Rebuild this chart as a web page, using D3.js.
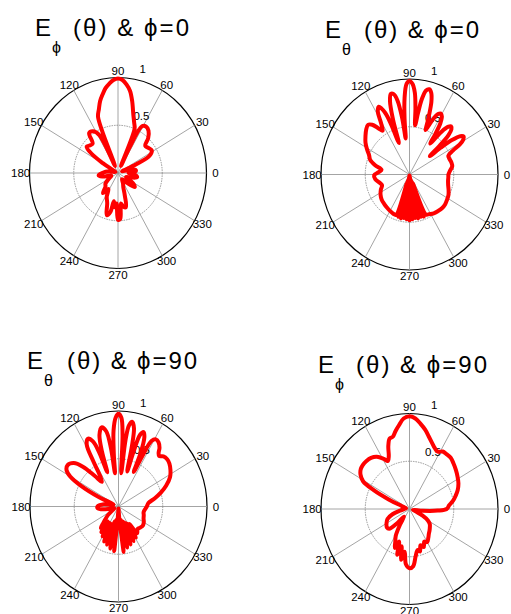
<!DOCTYPE html>
<html><head><meta charset="utf-8">
<script src="https://cdn.jsdelivr.net/npm/d3@7/dist/d3.min.js"></script>
<style>
body{margin:0;background:#fff}
svg{display:block}
text{font-family:"Liberation Sans",Arial,"DejaVu Sans",sans-serif;fill:#000}
</style>
</head><body>
<svg id="chart" width="511" height="614"></svg>
<script>
// ---------- data ----------
const angleTicks = [0,30,60,90,120,150,180,210,240,270,300,330];
const spokeAngles = [0,30,60,90,120,150];
const ringTicks = [0.5, 1];
const ringLabels = ["0.5", "1"];

const titleMain = ["E","E","E","E"];
const titleSub  = ["\u03D5","\u03B8","\u03B8","\u03D5"];
const titleRest = ["(\u03B8) & \u03D5=0","(\u03B8) & \u03D5=0","(\u03B8) & \u03D5=90","(\u03B8) & \u03D5=90"];

// Panel 1: E_phi, phi=0
const p1Theta = [0,5,10,15,20,24,27,32,38,43,47,52,57,61,64,66,68,71,74,78,81,84,87,90,93,96,99,102,105,108,111,113,115,118,123,128,133,138,142,146,149,152,160,170,180,186,192,200,210,218,225,231,237,243,249,254,258,261,264,267,270,273,276,280,284,288,292,298,305,315,322,328,335,342,348,354];
const p1R     = [.12,.2,.2,.12,.05,.22,.4,.45,.43,.42,.5,.56,.58,.56,.3,.08,.5,.56,.63,.77,.87,.93,.975,.99,.975,.94,.9,.84,.78,.7,.63,.12,.08,.45,.52,.53,.42,.43,.45,.36,.2,.05,.03,.1,.18,.22,.18,.08,.12,.18,.2,.27,.2,.28,.34,.46,.42,.3,.36,.32,.49,.48,.32,.36,.37,.25,.16,.12,.08,.15,.24,.2,.1,.15,.22,.2];

// Panel 2: E_theta, phi=0
const p2Theta = [0,5,10,15,20,24,27,29,31,33,35,37,38.5,40,41.5,43,45,47,49,51,52.5,54,55.5,57,59,61,63,65,67,68.5,70,72,74,76,78,80,81.5,83,84.5,86,88,90,92,94,95.5,96.5,98,100,102,104,106,108,110,111.5,113,116,118.5,121,123.5,126,129,132,136,141,146,151,156,161,166,171,176,181,187,194,200,206,213,220,227,234,240,246,250,
  252,254,256,258,260,262,264,266,268,270,272,274,276,278,280,282,284,286,288,290,292,294,
  298,304,310,316,322,328,334,340,346,352,356];
const p2R     = [.44,.46,.49,.49,.48,.48,.55,.65,.71,.73,.7,.6,.45,.3,.45,.6,.67,.69,.66,.58,.48,.4,.52,.64,.71,.73,.71,.65,.56,.5,.62,.8,.89,.92,.9,.8,.65,.52,.7,.86,.95,.98,.95,.8,.58,.38,.6,.79,.86,.87,.8,.6,.35,.55,.7,.79,.75,.62,.55,.6,.67,.7,.68,.64,.6,.55,.5,.47,.4,.32,.35,.4,.39,.35,.33,.36,.39,.41,.42,.43,.44,.45,.45,
  .1,.46,.06,.47,.04,.46,.02,.47,.01,.48,.01,.47,.02,.46,.04,.47,.06,.46,.08,.47,.1,.46,
  .47,.49,.5,.51,.51,.5,.49,.47,.45,.44,.44];

// Panel 3: E_theta, phi=90
const p3Theta = [0,6,12,17,22,28,33,38,42,46,49,51,53,56,59,61.5,63,64.5,66,68,70,72,73.5,75,76.5,78,80,82,83.5,85,86.5,88,90,92,94,95.5,96.5,98,100,103,106,108,109.5,111,113,116,119,121,123,126,130,134,138,143,147,150,153,156,160,167,173,178,183,188,194,202,210,217,222,
  225,228,231,234,237,240,243,246,249,252,255,258,261,264,266,268,270,272,274,277,280,283,286,289,292,295,298,301,304,307,
  312,318,324,330,336,342,348,354];
const p3R     = [.32,.34,.42,.5,.58,.66,.7,.73,.74,.73,.7,.72,.77,.81,.82,.78,.6,.4,.62,.78,.83,.79,.6,.38,.65,.84,.9,.86,.7,.35,.75,.93,.97,.93,.8,.55,.35,.62,.8,.85,.78,.6,.38,.6,.74,.79,.74,.55,.38,.32,.42,.58,.68,.72,.7,.63,.47,.25,.06,.08,.18,.23,.24,.2,.1,.05,.08,.15,.2,
  .24,.3,.2,.33,.2,.36,.2,.4,.2,.42,.16,.45,.14,.47,.12,.03,.02,.03,.12,.48,.14,.44,.16,.42,.18,.4,.2,.38,.22,.35,
  .32,.33,.34,.33,.31,.3,.29,.3];

// Panel 4: E_phi, phi=90
const p4Theta = [0,5,10,15,20,26,32,38,44,49,54,58,62,66,70,74,78,82,86,90,94,98,101,104,107,110,113,116,119,124,129,134,139,143,147,151,154,157,160,167,178,188,196,203,210,217,222,227,232,237,241,245,248,251,254,257,260,263,266,270,274,278,282,285,288,292,296,300,305,310,315,320,325,330,335,340,347,353,357];
const p4R     = [.42,.45,.5,.54,.58,.615,.64,.665,.69,.71,.71,.71,.68,.7,.74,.79,.85,.9,.95,.97,.95,.88,.83,.78,.77,.7,.6,.56,.6,.66,.69,.7,.7,.69,.66,.6,.45,.25,.1,.04,.05,.1,.2,.27,.3,.32,.31,.2,.1,.2,.32,.38,.44,.36,.5,.4,.54,.45,.58,.62,.6,.5,.44,.46,.4,.43,.38,.4,.37,.34,.32,.3,.28,.24,.16,.08,.04,.15,.32];

// ---------- layout ----------
const panels = [
  {theta:p1Theta, r:p1R, cx:118,   cy:173,   tx:35,  ty:36,  restX:73,    restW:116, t:0},
  {theta:p2Theta, r:p2R, cx:409.5, cy:174.5, tx:325, ty:38,  restX:364,   restW:115, t:1},
  {theta:p3Theta, r:p3R, cx:118.5, cy:506.5, tx:27,  ty:369, restX:67,    restW:130, t:2},
  {theta:p4Theta, r:p4R, cx:409.5, cy:509,   tx:318, ty:373, restX:356,   restW:131, t:3}
];
const RX = 88.5, RY = 95.5;

const svg = d3.select("#chart");
const ang = d3.scaleLinear().domain([0,360]).range([0, 2*Math.PI]);

panels.forEach(p => {
  const g = svg.append("g");
  const xs = d3.scaleLinear().domain([-1,1]).range([p.cx-RX, p.cx+RX]);
  const ys = d3.scaleLinear().domain([-1,1]).range([p.cy+RY, p.cy-RY]);

  // outer circle
  g.append("ellipse")
    .attr("cx", xs(0)).attr("cy", ys(0))
    .attr("rx", xs(1)-xs(0)).attr("ry", ys(0)-ys(1))
    .attr("fill","none").attr("stroke","#000").attr("stroke-width",1.2);

  // spokes
  g.selectAll("line.spoke").data(spokeAngles).enter().append("line")
    .attr("x1", d => xs(Math.cos(ang(d)))).attr("y1", d => ys(Math.sin(ang(d))))
    .attr("x2", d => xs(-Math.cos(ang(d)))).attr("y2", d => ys(-Math.sin(ang(d))))
    .attr("stroke","#9a9a9a").attr("stroke-width",0.9);

  // inner ring(s)
  g.selectAll("ellipse.ring").data(ringTicks.filter(v => v < 1)).enter().append("ellipse")
    .attr("cx", xs(0)).attr("cy", ys(0))
    .attr("rx", d => xs(d)-xs(0)).attr("ry", d => ys(0)-ys(d))
    .attr("fill","none").attr("stroke","#8a8a8a").attr("stroke-width",0.9)
    .attr("stroke-dasharray","1.5,1");

  // angle labels
  g.selectAll("text.ang").data(angleTicks).enter().append("text")
    .attr("x", d => xs(1.1*Math.cos(ang(d))))
    .attr("y", d => ys(1.065*Math.sin(ang(d))))
    .attr("text-anchor","middle").attr("dominant-baseline","central")
    .attr("font-size", 11.5)
    .text(d => d);

  // ring labels (angle 82deg, just outside ring)
  g.selectAll("text.rl").data(ringTicks).enter().append("text")
    .attr("x", d => xs((d + 0.025) * Math.cos(ang(82))) + 9)
    .attr("y", d => ys((d + 0.025) * Math.sin(ang(82))) - 3)
    .attr("font-size", 11.5)
    .text((d,i) => ringLabels[i]);

  // data curve
  const pts = p.theta.map((t,i) => [t, p.r[i]]);
  const line = d3.line()
    .x(d => xs(d[1]*Math.cos(ang(d[0]))))
    .y(d => ys(d[1]*Math.sin(ang(d[0]))))
    .curve(d3.curveCatmullRomClosed.alpha(0.5));
  g.append("path").attr("d", line(pts))
    .attr("fill","none").attr("stroke","#ff0000").attr("stroke-width",4)
    .attr("stroke-linejoin","round");

  // title
  const t = svg.append("text").attr("x", p.tx).attr("y", p.ty).attr("font-size", 24);
  t.append("tspan").text(titleMain[p.t]);
  t.append("tspan").attr("font-size", 16).attr("dx", 1).attr("dy", 17).text(titleSub[p.t]);
  t.append("tspan").attr("x", p.restX).attr("y", p.ty)
    .attr("textLength", p.restW).attr("lengthAdjust","spacing")
    .text(titleRest[p.t]);
});
</script>
</body></html>
